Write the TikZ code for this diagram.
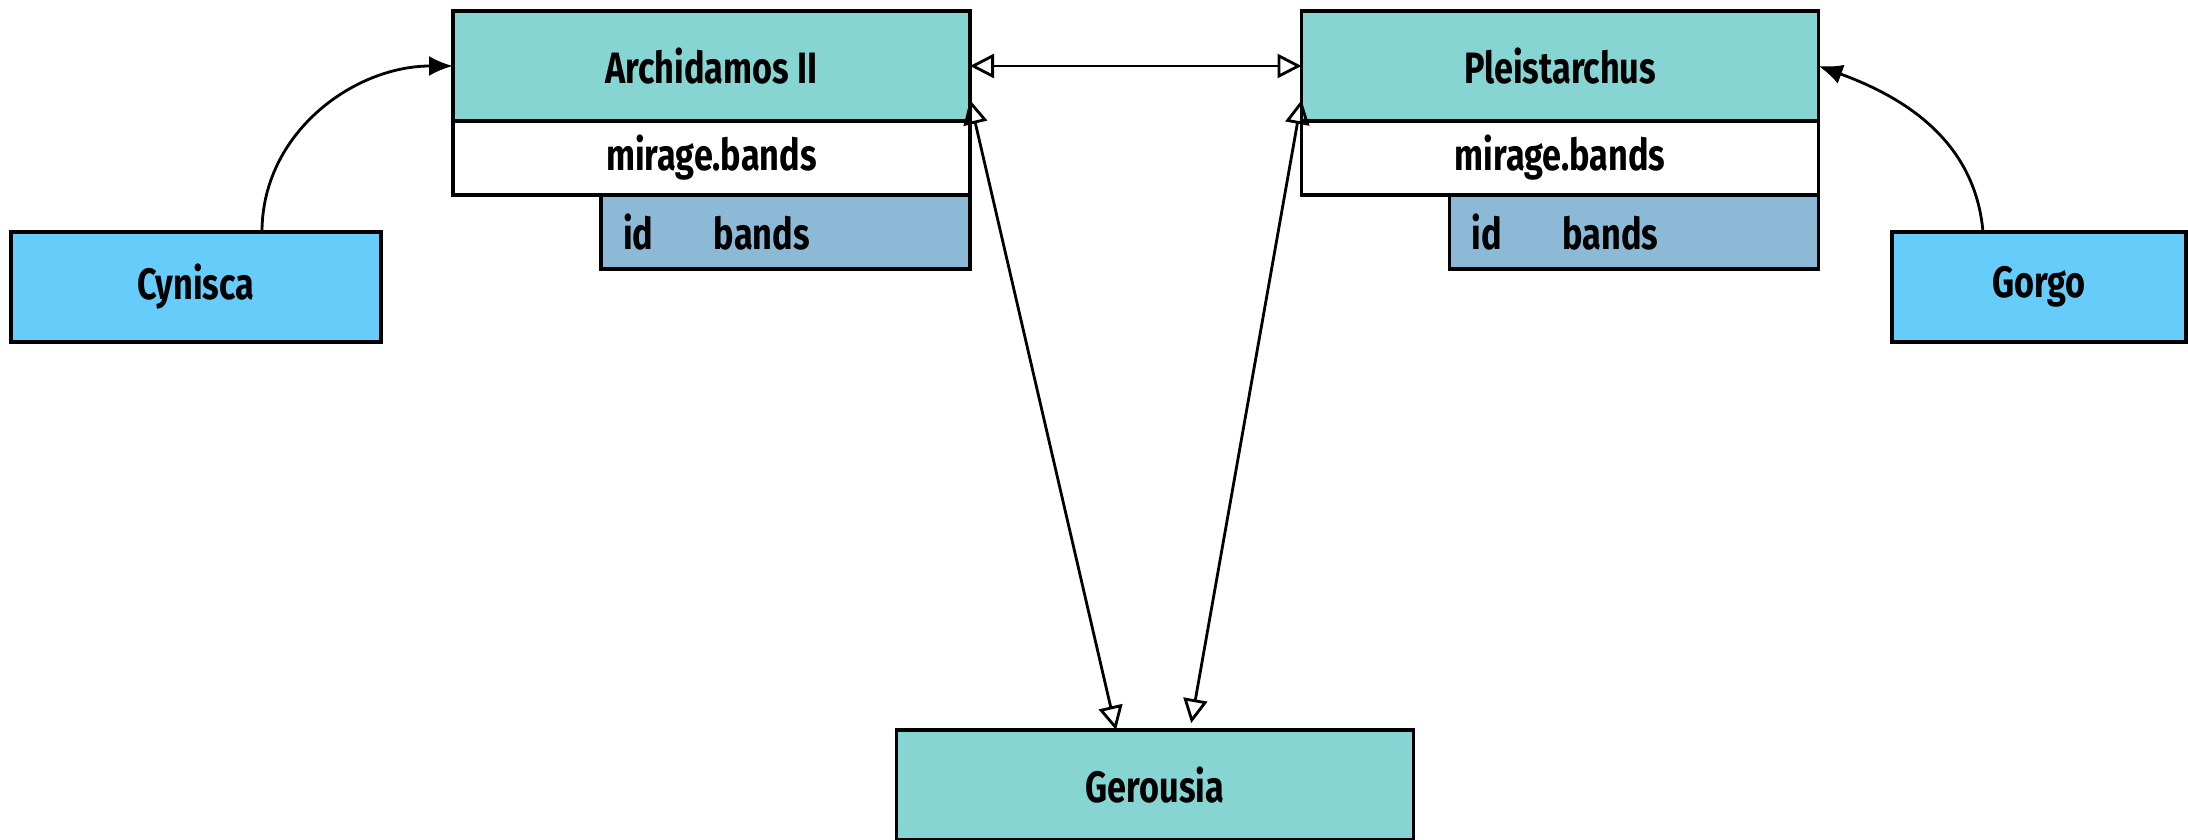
\documentclass[tikz,border=0pt]{standalone}
\usepackage{fontspec}
\setmainfont{Fira Sans}[FakeStretch=0.78]
\usetikzlibrary{arrows.meta, positioning}
\definecolor{headteal}{RGB}{134,213,210}
\definecolor{rowblue}{RGB}{139,185,214}
\definecolor{actorblue}{RGB}{102,204,250}

\begin{document}
\begin{tikzpicture}[
  box/.style={draw, line width=0.9pt, inner sep=0pt, outer sep=0pt, minimum height=1.1cm,
    font=\bfseries\fontsize{12.5}{15}\selectfont},
  head/.style={box, fill=headteal, minimum width=5.17cm},
  tbl/.style={box, fill=white, minimum width=5.17cm, minimum height=0.74cm},
  row/.style={box, fill=rowblue, minimum width=3.69cm, minimum height=0.74cm, text width=3.25cm, align=left},
  actor/.style={box, fill=actorblue},
  assoc/.style={{Triangle[open,length=2.4mm,width=2.4mm]}-{Triangle[open,length=2.4mm,width=2.4mm]}, line width=0.8pt},
  dep/.style={-{Latex[length=2.4mm,width=2mm]}, line width=0.8pt}]
  \useasboundingbox (0,0) rectangle (21.88,8.4);
  \node[head] (archidamos) at (7.115,7.74) {Archidamos II};
  \node[tbl, below=0pt of archidamos] (archidamos-tbl) {mirage.bands};
  \node[row, anchor=north east] (archidamos-row) at (archidamos-tbl.south east) {\makebox[0.91cm][l]{id}bands};
  \node[head] (pleistarchus) at (15.60,7.74) {Pleistarchus};
  \node[tbl, below=0pt of pleistarchus] (pleistarchus-tbl) {mirage.bands};
  \node[row, anchor=north east] (pleistarchus-row) at (pleistarchus-tbl.south east) {\makebox[0.91cm][l]{id}bands};
  \node[actor, minimum width=3.70cm] (cynisca) at (1.96,5.53) {Cynisca};
  \node[actor, minimum width=2.94cm] (gorgo) at (20.39,5.53) {Gorgo};
  \node[head] (gerousia) at (11.55,0.55) {Gerousia};
  \draw[assoc] (archidamos.east) -- (pleistarchus.west);
  \draw[assoc] ([yshift=-0.34cm]archidamos.east) -- ([xshift=-0.39cm]gerousia.north);
  \draw[assoc, shorten >=0.07cm] ([yshift=-0.34cm]pleistarchus.west) -- ([xshift=0.35cm]gerousia.north);
  \draw[dep] ([xshift=0.66cm]cynisca.north) to[out=90,in=180] (archidamos.west);
  \draw[dep] ([xshift=-0.56cm]gorgo.north) to[out=95,in=-20] (pleistarchus.east);
\end{tikzpicture}
\end{document}
